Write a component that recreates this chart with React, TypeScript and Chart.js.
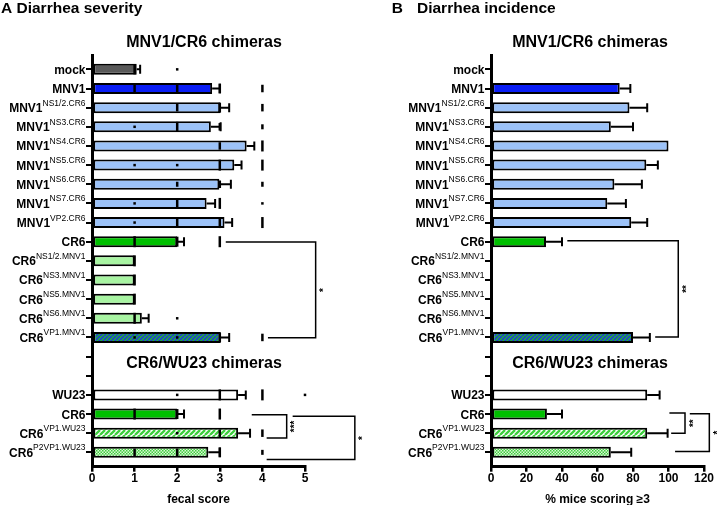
import React, { useEffect, useRef } from 'react';
import { Chart, registerables } from 'chart.js';

Chart.register(...registerables);

const FONT = '"Liberation Sans", Arial, Helvetica, sans-serif';

// ---- categories (top to bottom); empty names are spacer rows ----
const rowNames = ['mock', 'MNV1', 'MNV1', 'MNV1', 'MNV1', 'MNV1', 'MNV1', 'MNV1', 'MNV1', 'CR6', 'CR6', 'CR6', 'CR6', 'CR6', 'CR6', '', '', 'WU23', 'CR6', 'CR6', 'CR6'];
const rowSupers = ['', '', 'NS1/2.CR6', 'NS3.CR6', 'NS4.CR6', 'NS5.CR6', 'NS6.CR6', 'NS7.CR6', 'VP2.CR6', '', 'NS1/2.MNV1', 'NS3.MNV1', 'NS5.MNV1', 'NS6.MNV1', 'VP1.MNV1', '', '', '', '', 'VP1.WU23', 'P2VP1.WU23'];
const rowGroups = ['mock', 'MNV1', 'MNV1 chimera', 'MNV1 chimera', 'MNV1 chimera', 'MNV1 chimera', 'MNV1 chimera', 'MNV1 chimera', 'MNV1 chimera', 'CR6', 'CR6 chimera', 'CR6 chimera', 'CR6 chimera', 'CR6 chimera', 'CR6 VP1.MNV1', '', '', 'WU23', 'CR6', 'CR6 VP1.WU23', 'CR6 P2VP1.WU23'];
const sectionTitles = ['MNV1/CR6 chimeras', 'CR6/WU23 chimeras'];

// ---- A: diarrhea severity (fecal score mean, SEM) ----
const severityMean = [1.05, 2.82, 3.01, 2.79, 3.63, 3.34, 2.99, 2.69, 3.11, 2.0, 1.0, 1.0, 1.0, 1.17, 3.02, null, null, 3.43, 2.0, 3.43, 2.73];
const severitySem = [0.08, 0.18, 0.21, 0.23, 0.18, 0.17, 0.27, 0.2, 0.18, 0.16, 0, 0, 0, 0.16, 0.2, null, null, 0.18, 0.16, 0.28, 0.27];
// individual scores: [row, score, number of mice]
const severityMice: number[][] = [
  [0, 1, 4], [0, 2, 1],
  [1, 1, 3], [1, 2, 3], [1, 3, 4], [1, 4, 3],
  [2, 2, 3], [2, 3, 4], [2, 4, 3],
  [3, 1, 1], [3, 2, 4], [3, 3, 3], [3, 4, 2],
  [4, 3, 3], [4, 4, 5],
  [5, 1, 1], [5, 2, 1], [5, 3, 5], [5, 4, 5],
  [6, 2, 2], [6, 3, 3], [6, 4, 2],
  [7, 1, 1], [7, 2, 3], [7, 3, 5], [7, 4, 1],
  [8, 1, 1], [8, 2, 3], [8, 3, 5], [8, 4, 5],
  [9, 1, 5], [9, 2, 4], [9, 3, 5],
  [10, 1, 5], [11, 1, 5], [12, 1, 5],
  [13, 1, 5], [13, 2, 1],
  [14, 1, 1], [14, 2, 1], [14, 3, 4], [14, 4, 3],
  [17, 2, 1], [17, 3, 5], [17, 4, 5], [17, 5, 1],
  [18, 1, 5], [18, 2, 4], [18, 3, 5],
  [19, 2, 1], [19, 3, 3], [19, 4, 3],
  [20, 1, 3], [20, 2, 3], [20, 3, 4], [20, 4, 2],
];
const severityTicks = [0, 1, 2, 3, 4, 5];

// ---- B: diarrhea incidence (% mice scoring >=3, mean, SEM) ----
const incidenceMean = [0, 72.5, 78, 67.5, 100, 87.5, 69.5, 65.5, 79, 31, 0, 0, 0, 0, 80, null, null, 88, 31.5, 88, 67.5];
const incidenceSem = [0, 6, 10, 12.5, 0, 6.5, 15.5, 10.5, 9, 9, 0, 0, 0, 0, 9.5, null, null, 7, 8.5, 11.5, 11.5];
const incidenceTicks = [0, 20, 40, 60, 80, 100, 120];

type Bracket = { from: number; to: number; fromStart: number; toStart: number; at: number; stars: string };
const severityBrackets: Bracket[] = [
  { from: 9.02, to: 14.02, fromStart: 3.14, toStart: 4.13, at: 5.25, stars: '*' },
  { from: 18.04, to: 19.25, fromStart: 3.75, toStart: 4.1, at: 4.57, stars: '***' },
  { from: 18.12, to: 20.38, fromStart: 4.71, toStart: 4.1, at: 6.17, stars: '*' },
];
const incidenceBrackets: Bracket[] = [
  { from: 8.95, to: 13.98, fromStart: 43, toStart: 92.5, at: 105.5, stars: '**' },
  { from: 17.95, to: 19.0, fromStart: 100.5, toStart: 101.5, at: 109.3, stars: '**' },
  { from: 17.98, to: 19.95, fromStart: 112, toStart: 103.7, at: 123, stars: '*' },
];

type PanelCfg = {
  mean: (number | null)[];
  sem: (number | null)[];
  mice?: number[][];
  ticks: number[];
  width: number;
  axisLeft: number;
  padRight: number;
  titleParts: [string, number][];
  sectionX: number;
  xTitle: string;
  brackets: Bracket[];
};

const severityCfg: PanelCfg = {
  mean: severityMean, sem: severitySem, mice: severityMice, ticks: severityTicks,
  width: 370, axisLeft: 92, padRight: 65,
  titleParts: [['A Diarrhea severity', 1]], sectionX: 204, xTitle: 'fecal score', brackets: severityBrackets,
};
const incidenceCfg: PanelCfg = {
  mean: incidenceMean, sem: incidenceSem, ticks: incidenceTicks,
  width: 347, axisLeft: 121, padRight: 13,
  titleParts: [['B', 21.7], ['Diarrhea incidence', 47]], sectionX: 220, xTitle: '% mice scoring \u22653', brackets: incidenceBrackets,
};

function stripePattern(bg: string, fg: string, size: number, lw: number) {
  const c = document.createElement('canvas');
  c.width = size; c.height = size;
  const g = c.getContext('2d')!;
  g.fillStyle = bg; g.fillRect(0, 0, size, size);
  g.strokeStyle = fg; g.lineWidth = lw;
  g.beginPath();
  for (const k of [-size, 0, size]) { g.moveTo(k, size); g.lineTo(k + size, 0); }
  g.stroke();
  return g.createPattern(c, 'repeat')!;
}
function checkerPattern(a: string, b: string, cell: number) {
  const c = document.createElement('canvas');
  c.width = cell * 2; c.height = cell * 2;
  const g = c.getContext('2d')!;
  g.fillStyle = b; g.fillRect(0, 0, cell * 2, cell * 2);
  g.fillStyle = a; g.fillRect(0, 0, cell, cell); g.fillRect(cell, cell, cell, cell);
  return g.createPattern(c, 'repeat')!;
}

function makeFills(): Record<string, string | CanvasPattern> {
  return {
    'mock': '#595959',
    'MNV1': '#0a1ef5',
    'MNV1 chimera': '#9cc2f8',
    'CR6': '#00bf00',
    'CR6 chimera': '#a8f4a2',
    'WU23': '#ffffff',
    'CR6 VP1.MNV1': stripePattern('#1fae3a', '#2236e0', 4, 1.5),
    'CR6 VP1.WU23': stripePattern('#ffffff', '#3dcf3d', 5, 2.3),
    'CR6 P2VP1.WU23': checkerPattern('#3fcc3f', '#d8f8d4', 1.5),
  };
}

const markLength = (n: number) => Math.min(2.5 * n, 11);

function buildChart(canvas: HTMLCanvasElement, cfg: PanelCfg) {
  const fills = makeFills();
  const bars = cfg.mean
    .map((m, i) => (m == null ? null : { x: m, y: i }))
    .filter((p): p is { x: number; y: number } => p !== null);

  const datasets: any[] = [{
    type: 'bar',
    indexAxis: 'y',
    data: bars,
    backgroundColor: bars.map((p) => fills[rowGroups[p.y]]),
    borderColor: '#000',
    borderWidth: 2,
    borderSkipped: false,
    inflateAmount: 0,
    barThickness: 11,
    order: 1,
    clip: false,
  }];
  if (cfg.mice) {
    datasets.push({
      type: 'scatter',
      data: cfg.mice.map(([r, s, n]) => ({ x: s, y: r, n })),
      pointStyle: 'line',
      pointRotation: 90,
      pointRadius: (c: any) => markLength(c.raw ? c.raw.n : 1) / 2,
      pointBorderWidth: 2.5,
      pointBorderColor: '#000',
      pointBackgroundColor: '#000',
      showLine: false,
      order: 0,
      clip: false,
    });
  }

  const decor = {
    id: 'decor',
    afterDraw(chart: any) {
      const ctx: CanvasRenderingContext2D = chart.ctx;
      const xs = chart.scales.x;
      const ys = chart.scales.y;
      const area = chart.chartArea;
      ctx.save();
      ctx.fillStyle = '#000';
      ctx.strokeStyle = '#000';
      ctx.textBaseline = 'alphabetic';

      // error bars (one-sided)
      ctx.lineWidth = 2;
      cfg.mean.forEach((m, i) => {
        const e = cfg.sem[i];
        if (m == null || !e) return;
        const y = ys.getPixelForValue(i);
        const x0 = xs.getPixelForValue(m);
        const x1 = xs.getPixelForValue(m + e);
        ctx.beginPath();
        ctx.moveTo(x0, y); ctx.lineTo(x1, y);
        ctx.moveTo(x1, y - 4.5); ctx.lineTo(x1, y + 4.5);
        ctx.stroke();
      });

      // row labels with superscripts
      ctx.textAlign = 'left';
      rowNames.forEach((name, i) => {
        if (!name) return;
        const y = ys.getPixelForValue(i);
        const sup = rowSupers[i];
        ctx.font = `bold 12px ${FONT}`;
        const wb = ctx.measureText(name).width;
        ctx.font = `8.5px ${FONT}`;
        const ws = sup ? ctx.measureText(sup).width : 0;
        const x0 = area.left - 6.5 - ws - wb;
        ctx.font = `bold 12px ${FONT}`;
        ctx.fillText(name, x0, y + 4.5);
        if (sup) {
          ctx.font = `8.5px ${FONT}`;
          ctx.fillText(sup, x0 + wb, y - 2);
        }
      });

      // x tick labels
      ctx.font = `bold 12px ${FONT}`;
      ctx.textAlign = 'center';
      cfg.ticks.forEach((t) => ctx.fillText(String(t), xs.getPixelForValue(t), 481.5));

      // x title
      ctx.fillText(cfg.xTitle, (area.left + area.right) / 2, 502.5);

      // section titles
      ctx.font = `bold 16px ${FONT}`;
      ctx.fillText(sectionTitles[0], cfg.sectionX, 47);
      ctx.fillText(sectionTitles[1], cfg.sectionX, 368);

      // panel title
      ctx.font = `bold 15.5px ${FONT}`;
      ctx.textAlign = 'left';
      cfg.titleParts.forEach(([t, x]) => ctx.fillText(t, x, 13));

      // significance brackets
      ctx.lineWidth = 1.5;
      cfg.brackets.forEach((b) => {
        const y1 = ys.getPixelForValue(b.from);
        const y2 = ys.getPixelForValue(b.to);
        const xv = xs.getPixelForValue(b.at);
        ctx.beginPath();
        ctx.moveTo(xs.getPixelForValue(b.fromStart), y1);
        ctx.lineTo(xv, y1);
        ctx.lineTo(xv, y2);
        ctx.lineTo(xs.getPixelForValue(b.toStart), y2);
        ctx.stroke();
        ctx.save();
        ctx.translate(xv + 6, (y1 + y2) / 2);
        ctx.rotate(-Math.PI / 2);
        ctx.font = `bold 10px ${FONT}`;
        ctx.textAlign = 'center';
        ctx.fillText(b.stars, 0, 5.5);
        ctx.restore();
      });
      ctx.restore();
    },
  };

  const xMax = cfg.ticks[cfg.ticks.length - 1];
  const step = cfg.ticks[1] - cfg.ticks[0];

  return new Chart(canvas, {
    type: 'bar',
    data: { datasets },
    plugins: [decor],
    options: {
      animation: false,
      responsive: false,
      indexAxis: 'y',
      events: [],
      layout: { padding: { top: 55, right: cfg.padRight, left: 0, bottom: 0 } },
      plugins: { legend: { display: false }, tooltip: { enabled: false }, title: { display: false } },
      scales: {
        x: {
          type: 'linear',
          min: 0,
          max: xMax,
          offset: false,
          ticks: { stepSize: step, display: false },
          grid: { offset: false, drawOnChartArea: false, drawTicks: true, tickLength: 5, color: '#000', tickColor: '#000', lineWidth: 2.5 },
          border: { display: true, color: '#000', width: 3, z: 1 },
          afterFit: (s: any) => { s.height = 505 - 466.7; },
        },
        y: {
          type: 'linear',
          min: -0.75,
          max: 20.75,
          reverse: true,
          offset: false,
          ticks: { stepSize: 1, includeBounds: false, display: false },
          grid: { offset: false, drawOnChartArea: false, drawTicks: true, tickLength: 6, color: '#000', tickColor: '#000', lineWidth: 2 },
          border: { display: true, color: '#000', width: 3, z: 1 },
          afterFit: (s: any) => { s.width = cfg.axisLeft; },
        },
      },
    } as any,
  });
}

function Panel({ cfg, left }: { cfg: PanelCfg; left: number }) {
  const ref = useRef<HTMLCanvasElement>(null);
  useEffect(() => {
    const chart = buildChart(ref.current!, cfg);
    return () => chart.destroy();
  }, []);
  return (
    <canvas
      ref={ref}
      width={cfg.width}
      height={505}
      style={{ position: 'absolute', left, top: 0, width: cfg.width, height: 505 }}
    />
  );
}

export default function App() {
  return (
    <div style={{ position: 'absolute', left: 0, top: 0, width: 717, height: 505, background: '#fff', overflow: 'hidden' }}>
      <Panel cfg={severityCfg} left={0} />
      <Panel cfg={incidenceCfg} left={370} />
    </div>
  );
}
